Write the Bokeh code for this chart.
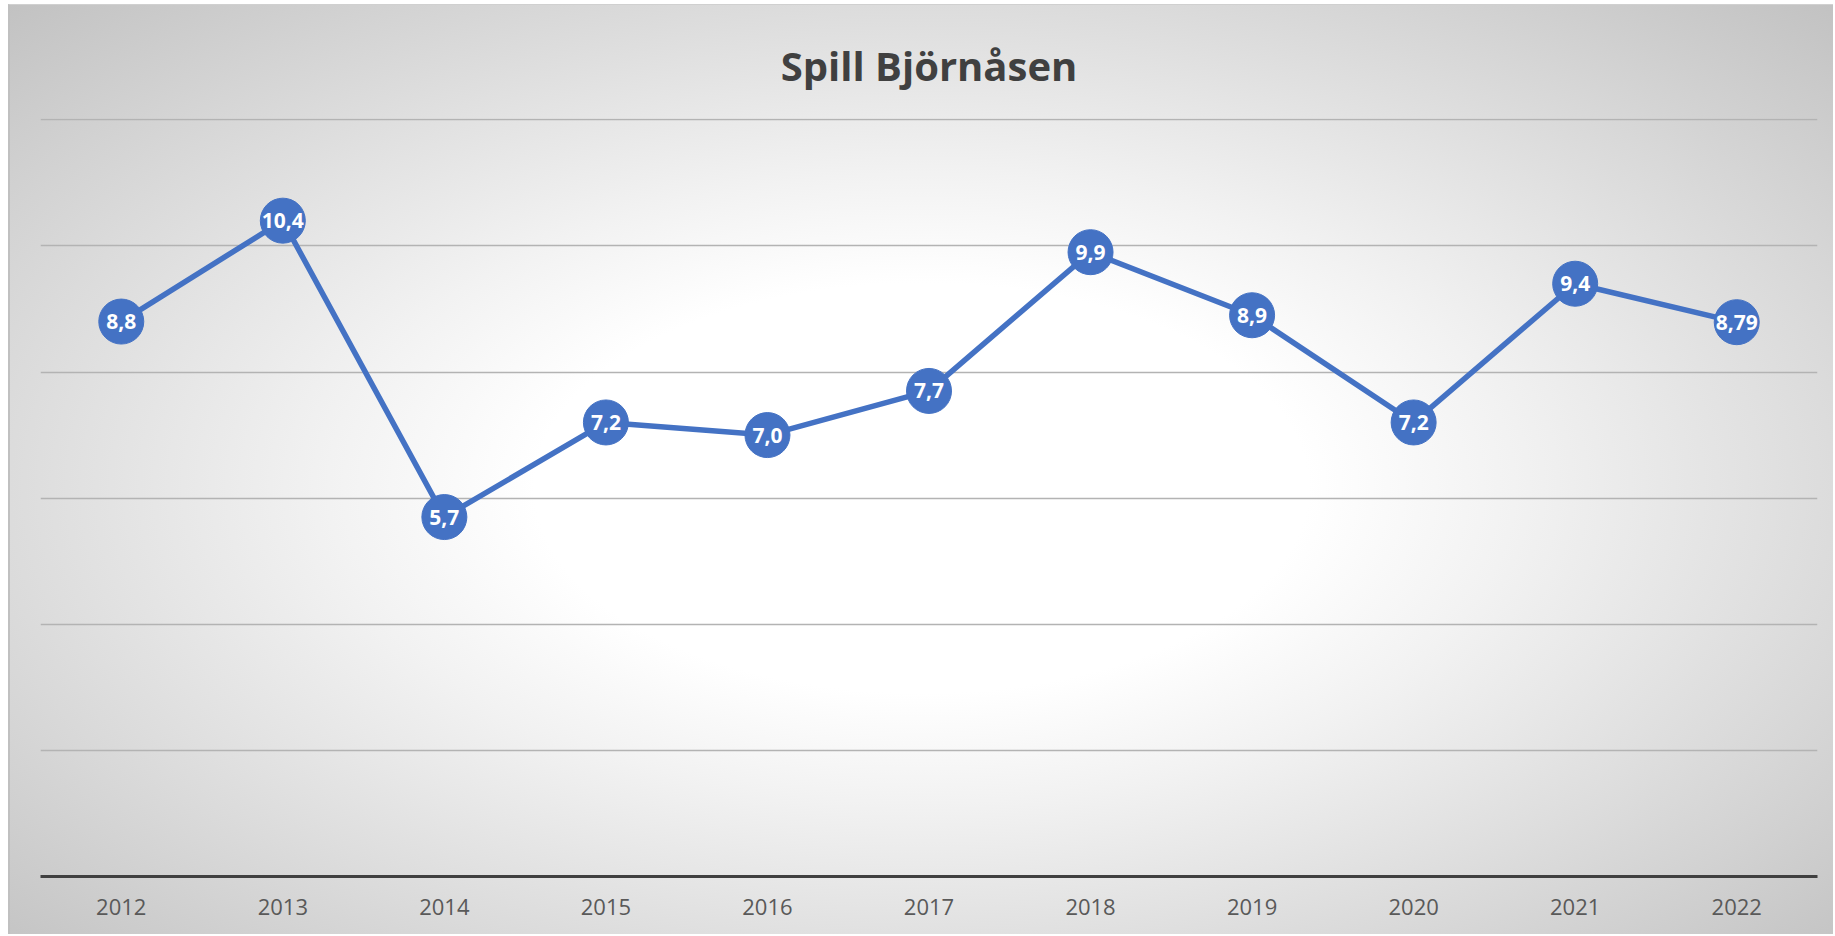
from bokeh.plotting import figure
from bokeh.models import ColumnDataSource, FixedTicker
from bokeh.core.properties import value
from bokeh.embed import file_html
from bokeh.resources import INLINE

years = ["2012", "2013", "2014", "2015", "2016", "2017", "2018", "2019", "2020", "2021", "2022"]
spill = [8.8, 10.4, 5.7, 7.2, 7.0, 7.7, 9.9, 8.9, 7.2, 9.4, 8.79]
spill_labels = ["8,8", "10,4", "5,7", "7,2", "7,0", "7,7", "9,9", "8,9", "7,2", "9,4", "8,79"]
y_ticks = [0, 2, 4, 6, 8, 10, 12]

src = ColumnDataSource(dict(year=years, v=spill, lab=spill_labels))

p = figure(x_range=years, y_range=(0, 12.02), width=1825, height=930,
           output_backend="svg", toolbar_location=None,
           min_border_left=30, min_border_right=18, min_border_top=113, min_border_bottom=59,
           title="Spill Björnåsen")

p.styles = {
    "background": "radial-gradient(ellipse farthest-corner at 50% 52%, #ffffff 0%, #ffffff 30%, #f2f2f2 46%, #c2c2c2 100%)",
    "border-top": "1px solid #d0d0d0",
    "border-left": "2px solid #c0c0c0",
    "margin-left": "8px",
    "margin-top": "4px",
}
p.background_fill_alpha = 0
p.border_fill_alpha = 0
p.outline_line_color = None

p.title.text_font = "Open Sans"
p.title.text_font_size = "40px"
p.title.text_font_style = "bold"
p.title.text_color = "#404040"
p.title.align = "center"
p.title.standoff = 52

p.yaxis.visible = False
p.yaxis.ticker = FixedTicker(ticks=y_ticks)
p.ygrid.ticker = FixedTicker(ticks=y_ticks)
p.ygrid.grid_line_color = "#b3b3b3"
p.ygrid.grid_line_width = 1.5
p.xgrid.grid_line_color = None

p.xaxis.axis_line_color = "#404040"
p.xaxis.axis_line_width = 3
p.xaxis.major_tick_line_color = None
p.xaxis.minor_tick_line_color = None
p.xaxis.major_tick_out = 0
p.xaxis.major_label_standoff = 22
p.xaxis.major_label_text_font = "Open Sans"
p.xaxis.major_label_text_font_size = "22px"
p.xaxis.major_label_text_color = "#595959"

p.line("year", "v", source=src, line_color="#4472C4", line_width=5.5)
p.scatter("year", "v", source=src, size=45, fill_color="#4472C4", line_color="#4472C4")
p.text("year", "v", text="lab", source=src, text_color="white",
       text_font=value("Open Sans"), text_font_style="bold", text_font_size="21px",
       text_align="center", text_baseline="middle")

open("out.html", "w").write(file_html(p, INLINE))
